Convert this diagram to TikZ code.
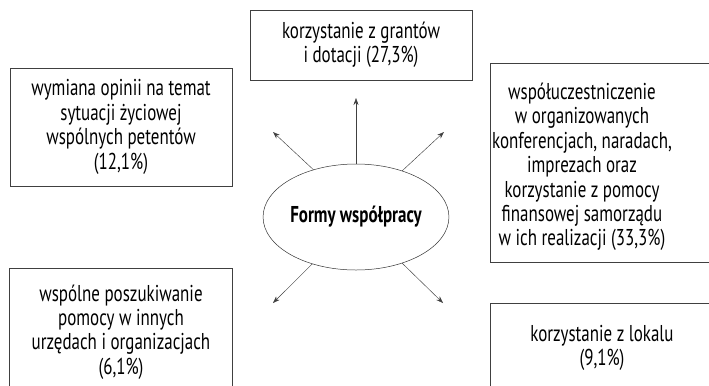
\documentclass[tikz,border=0pt]{standalone}
\usepackage{fontspec}
\setmainfont{PT Sans}[FakeStretch=0.74]
\usepackage{tikz}
\usetikzlibrary{positioning,arrows.meta,shapes}
\tikzstyle{frame} = [rectangle, draw=black!75, line width=0.5pt, inner sep=0pt]
\tikzstyle{txt}   = [align=center, inner sep=0pt,
                     font=\fontsize{23}{24.5}\selectfont]
\tikzstyle{forma} = [ellipse, draw=black!80, line width=0.5pt, inner sep=0pt,
                     minimum width=166bp, minimum height=106bp,
                     font=\fontsize{23}{24}\selectfont\bfseries]
\tikzstyle{ptr}   = [draw=black!75, line width=0.45pt,
                     -{Stealth[length=7pt,width=5pt]}]

\begin{document}
\begin{tikzpicture}[x=1bp, y=-1bp]
		\useasboundingbox (0,0) rectangle (709,385);
		\clip (0,0) rectangle (709,385);

		\node[forma] (formy) at (356,217) {Formy współpracy};

		\node[frame, txt, minimum width=222bp, minimum height=70bp] (granty) at (361,45)
			{korzystanie z grantów\\i dotacji (27,3\%)};
		\node[frame, txt, minimum width=222bp, minimum height=118bp] (opinie) at (121,127)
			{wymiana opinii na temat\\sytuacji życiowej\\wspólnych petentów\\(12,1\%)};
		\node[frame, txt, minimum width=223bp, minimum height=128bp] (pomoc) at (121,332)
			{wspólne poszukiwanie\\pomocy w innych\\urzędach i organizacjach\\(6,1\%)};

		% right boxes run off the page
		\draw[frame] (490,63) rectangle (740,262);
		\node[txt] (konf) at (582,167)
			{współuczestniczenie\\w organizowanych\\konferencjach, naradach,\\imprezach oraz\\korzystanie z pomocy\\finansowej samorządu\\w ich realizacji (33,3\%)};
		\draw[frame] (490,303) rectangle (740,400);
		\node[txt] (lokal) at (602,348) {korzystanie z lokalu\\(9,1\%)};

		\coordinate (tg) at (356,98);
		\coordinate (tl) at (273,132);
		\coordinate (tr) at (444,132);
		\coordinate (bl) at (273,303);
		\coordinate (br) at (443,303);

		\draw[ptr] (formy.north) -- (tg);
		\draw[ptr] (formy.132) -- (tl);
		\draw[ptr] (formy.45) -- (tr);
		\draw[ptr] (formy.227) -- (bl);
		\draw[ptr] (formy.315) -- (br);
	\end{tikzpicture}
\end{document}
